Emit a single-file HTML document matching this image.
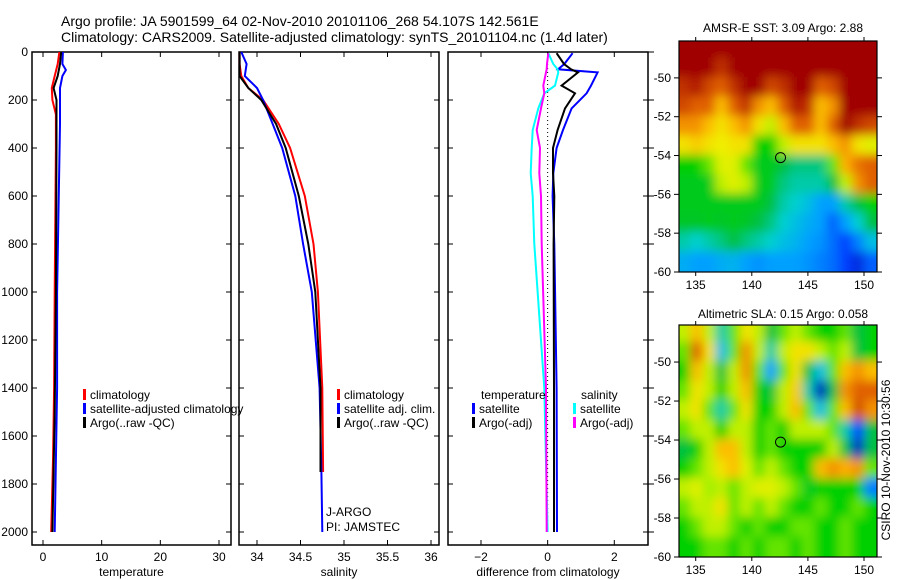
<!DOCTYPE html>
<html><head><meta charset="utf-8">
<style>
body{margin:0;background:#fff;}
svg{display:block;font-family:"Liberation Sans",sans-serif;}
</style></head>
<body>
<svg id="c" width="900" height="580" viewBox="0 0 900 580">
<text x="61" y="26" font-size="14">Argo profile: JA 5901599_64 02-Nov-2010 20101106_268 54.107S 142.561E</text>
<text x="61" y="42" font-size="14">Climatology: CARS2009. Satellite-adjusted climatology: synTS_20101104.nc (1.4d later)</text>
<text x="783" y="32" font-size="12" text-anchor="middle">AMSR-E SST: 3.09 Argo: 2.88</text>
<text x="783" y="318" font-size="12" text-anchor="middle">Altimetric SLA: 0.15 Argo: 0.058</text>
<text transform="translate(890,460) rotate(-90)" font-size="12" text-anchor="middle">CSIRO 10-Nov-2010 10:30:56</text>
<defs>
<clipPath id="cm1"><rect x="679" y="41" width="198" height="231"/></clipPath>
<clipPath id="cm2"><rect x="679" y="325" width="198" height="232"/></clipPath>
<filter id="bl" x="-0.1" y="-0.1" width="1.2" height="1.2"><feGaussianBlur stdDeviation="5"/></filter>
</defs>
</svg>
<script>
// ---- profile data ----
const depthsTClim=[0,50,100,150,200,260,400,1000,1400,1700,2000];
const tempClim=[2.8,2.5,2.0,1.5,1.6,2.2,2.2,2.0,1.9,1.7,1.4];
const depthsTSat=[0,50,75,100,150,300,1000,1400,1700,2000];
const tempSat=[3.4,3.3,3.9,3.3,2.9,2.9,2.4,2.4,2.2,2.0];
const depthsTArgo=[0,50,100,150,200,400,1000,1500,2000];
const tempArgo=[3.1,2.9,2.5,1.8,2.3,2.3,2.2,2.0,1.6];

const depthsS=[0,50,100,150,200,300,400,600,800,1000,1400,1750,2000];
const salClim=[33.8,33.8,33.82,33.9,34.07,34.25,34.38,34.55,34.65,34.7,34.75,34.76,null];
const salSat=[33.82,33.88,33.86,34.0,34.07,34.18,34.29,34.44,34.53,34.63,34.72,34.74,34.75];
const salArgo=[33.8,33.8,33.8,33.9,34.05,34.22,34.33,34.48,34.59,34.67,34.73,34.73,null];

const depthsD=[5,50,72,85,140,172,235,325,400,505,600,800,1400,2000];
const dTempSat=[0.75,0.5,0.31,1.5,1.3,1.17,0.72,0.46,0.27,0.17,0.15,0.2,0.27,0.28];
const dTempArgo=[0.27,0.49,0.7,0.91,0.42,0.82,0.52,0.3,0.16,0.16,0.2,0.18,0.19,0.19];
const dSalSat=[0.02,0.17,0.3,0.32,0.22,-0.1,-0.28,-0.45,-0.48,-0.51,-0.45,-0.4,-0.1,0.0];
const dSalArgo=[0.02,-0.02,-0.03,-0.05,-0.13,-0.1,-0.2,-0.33,-0.23,-0.25,-0.2,-0.18,-0.05,-0.03];

const depthTicks=[0,200,400,600,800,1000,1200,1400,1600,1800,2000];
const tempTicks=[0,10,20,30];
const salTicks=[34,34.5,35,35.5,36];
const diffTicks=[-2,0,2];

// ---- map data (rows lat 48..59, cols lon 133.5..151.1) ----
const sstGrid=[
[1,1,1,1,1,1,1,1,1,1,1,1,1,1,1,1],
[1,1,1,.9,1,1,1,1,1,1,1,1,1,1,1,1],
[.9,.95,.85,.8,.9,1,1,.85,.9,1,1,.8,.85,1,1,1],
[.85,.8,.8,.7,.8,.9,.75,.7,.8,.95,.9,.7,.75,1,1,1],
[.75,.75,.7,.65,.7,.75,.65,.6,.7,.8,.8,.7,.8,1,.9,.85],
[.65,.68,.65,.63,.65,.65,.5,.5,.6,.65,.65,.65,.7,.75,.65,.62],
[.5,.5,.55,.62,.62,.55,.48,.48,.45,.42,.42,.42,.55,.72,.78,.8],
[.48,.48,.48,.6,.62,.6,.48,.48,.42,.4,.4,.4,.45,.6,.75,.8],
[.48,.48,.48,.48,.48,.48,.48,.45,.4,.38,.35,.3,.3,.4,.45,.5],
[.47,.47,.48,.47,.48,.47,.45,.42,.38,.35,.32,.3,.2,.3,.38,.45],
[.4,.38,.4,.42,.45,.42,.4,.38,.35,.33,.3,.28,.22,.15,.25,.35],
[.32,.3,.3,.32,.33,.3,.28,.3,.3,.3,.28,.25,.22,.15,.1,.2]];
const slaGrid=[
[.6,.7,.6,.4,.55,.65,.6,.45,.55,.6,.55,.5,.5,.55,.45,.5],
[.55,.8,.65,.35,.55,.75,.6,.4,.6,.65,.65,.6,.55,.6,.45,.5],
[.5,.7,.6,.45,.6,.75,.55,.3,.55,.65,.45,.35,.55,.7,.75,.7],
[.55,.65,.6,.5,.6,.7,.5,.45,.6,.68,.4,.05,.45,.75,.8,.8],
[.6,.65,.55,.4,.55,.65,.5,.5,.6,.7,.55,.35,.55,.7,.85,.75],
[.55,.6,.6,.5,.6,.6,.5,.55,.5,.6,.6,.6,.55,.4,.15,.45],
[.45,.5,.6,.7,.7,.6,.5,.55,.5,.5,.5,.5,.6,.45,.05,.45],
[.5,.55,.6,.65,.7,.62,.55,.6,.55,.5,.5,.7,.75,.72,.75,.55],
[.6,.62,.58,.6,.55,.6,.62,.62,.6,.55,.48,.5,.5,.5,.5,.25],
[.55,.6,.6,.65,.55,.6,.55,.6,.55,.5,.5,.55,.5,.5,.55,.5],
[.5,.55,.6,.6,.55,.5,.55,.5,.5,.55,.55,.5,.5,.55,.5,.5],
[.5,.5,.55,.55,.5,.55,.5,.55,.55,.5,.55,.5,.5,.55,.5,.5]];
const lonTicks=[135,140,145,150];
const latTicks=[50,52,54,56,58,60];
const floatLon=142.561, floatLat=54.107;

const NS='http://www.w3.org/2000/svg';
const svg=document.getElementById('c');
function el(tag,attrs,parent){const e=document.createElementNS(NS,tag);for(const k in attrs)e.setAttribute(k,attrs[k]);(parent||svg).appendChild(e);return e;}
function lin(d0,d1,r0,r1){return v=>r0+(v-d0)*(r1-r0)/(d1-d0);}
const yD=lin(0,2000,52,532);

function panel(x0,x1,xs,xticks,xlabel,name,fmt){
  const g=el('g',{});
  
  
  const fr=el('rect',{x:x0,y:52,width:x1-x0,height:493,fill:'none',stroke:'#000','stroke-width':1.5},g);
  
  
  depthTicks.forEach(d=>{
    const y=yD(d);
    el('line',{x1:x0,x2:x0+5,y1:y,y2:y,stroke:'#000'},g);
    el('line',{x1:x1,x2:x1-5,y1:y,y2:y,stroke:'#000'},g);
  });
  xticks.forEach(v=>{
    const x=xs(v);
    el('line',{x1:x,x2:x,y1:52,y2:57,stroke:'#000'},g);
    el('line',{x1:x,x2:x,y1:545,y2:540,stroke:'#000'},g);
    const t=el('text',{x:x,y:561,'font-size':12,'text-anchor':'middle'},g);
    t.textContent=fmt?fmt(v):v;
    
    
  });
  const xl=el('text',{x:(x0+x1)/2,y:576,'font-size':12,'text-anchor':'middle'},g);
  xl.textContent=xlabel;
  
  
  return g;
}
function series(depths,vals,xs,color,name){
  const pts=[];depths.forEach((d,i)=>{if(vals[i]!==null)pts.push(xs(vals[i]).toFixed(1)+','+yD(d).toFixed(1));});
  const p=el('polyline',{points:pts.join(' '),fill:'none',stroke:color,'stroke-width':2});
  
  
}
function legend(x,y,color,label,name){
  const r=el('rect',{x:x,y:y-9,width:3,height:11,fill:color});
  
  
  const t=el('text',{x:x+7,y:y+1,'font-size':12});
  t.textContent=label;
  
  
}

depthTicks.forEach(d=>{
  const t=el('text',{x:28,y:yD(d)+4,'font-size':12,'text-anchor':'end'});
  t.textContent=d;
  
  
});

const xT=lin(0,30,43,219);
panel(32,231,xT,tempTicks,'temperature','temperature-panel');
series(depthsTClim,tempClim,xT,'#f00','temp-climatology-line');
series(depthsTSat,tempSat,xT,'#00f','temp-satellite-line');
series(depthsTArgo,tempArgo,xT,'#000','temp-argo-line');
legend(83,398,'#f00','climatology','legend-climatology');
legend(83,412,'#00f','satellite-adjusted climatology','legend-satellite-adjusted');
legend(83,426,'#000','Argo(..raw -QC)','legend-argo');

const xS=lin(34,36,257,431);
panel(239,439,xS,salTicks,'salinity','salinity-panel');
series(depthsS,salClim,xS,'#f00','sal-climatology-line');
series(depthsS,salSat,xS,'#00f','sal-satellite-line');
series(depthsS,salArgo,xS,'#000','sal-argo-line');
legend(337,398,'#f00','climatology','legend-sal-climatology');
legend(337,412,'#00f','satellite adj. clim.','legend-sal-satellite');
legend(337,426,'#000','Argo(..raw -QC)','legend-sal-argo');
[['J-ARGO',516],['PI: JAMSTEC',531]].forEach(([s,y])=>{const t=el('text',{x:326,y:y,'font-size':12});t.textContent=s;});

const xDf=lin(-2,2,481,614.3);
panel(448,648,xDf,diffTicks,'difference from climatology','difference-panel',v=>v<0?'\u2212'+(-v):v);
depthTicks.forEach(d=>el('line',{x1:648,x2:654,y1:yD(d),y2:yD(d),stroke:'#000'}));
const zl=el('line',{x1:xDf(0),x2:xDf(0),y1:52,y2:yD(2000),stroke:'#000','stroke-dasharray':'1,3'});


series(depthsD,dTempSat,xDf,'#00f','diff-temp-satellite-line');
series(depthsD,dTempArgo,xDf,'#000','diff-temp-argo-line');
series(depthsD,dSalSat,xDf,'#0ff','diff-sal-satellite-line');
series(depthsD,dSalArgo,xDf,'#f0f','diff-sal-argo-line');
const th=el('text',{x:481,y:399,'font-size':12});th.textContent='temperature';
const sh=el('text',{x:581,y:399,'font-size':12});sh.textContent='salinity';
legend(472,412,'#00f','satellite','legend-diff-temp-satellite');
legend(472,426,'#000','Argo(-adj)','legend-diff-temp-argo');
legend(573,412,'#0ff','satellite','legend-diff-sal-satellite');
legend(573,426,'#f0f','Argo(-adj)','legend-diff-sal-argo');

const cstops=[[0,[0,0,160]],[.15,[0,64,255]],[.3,[0,160,255]],[.38,[0,208,208]],[.45,[0,192,64]],[.5,[0,208,0]],[.58,[160,240,0]],[.63,[240,240,0]],[.72,[255,176,0]],[.8,[224,96,0]],[.9,[192,48,0]],[1,[160,0,0]]];
function cmap(v){for(let i=1;i<cstops.length;i++){if(v<=cstops[i][0]){const a=cstops[i-1],b=cstops[i];const f=(v-a[0])/(b[0]-a[0]);return 'rgb('+a[1].map((c,k)=>Math.round(c+(b[1][k]-c)*f)).join(',')+')';}}return 'rgb(160,0,0)';}

function drawMap(grid,top,bottom,clip,name){
  const xL=lin(135,150,695.7,864), yL=lin(50,60,top+(bottom-top)*(1.9/11.9),bottom);
  const g=el('g',{'clip-path':'url(#'+clip+')'});
  
  
  const inner=el('g',{filter:'url(#bl)'},g);
  const nC=grid[0].length, lonStep=(151.2-133.5)/nC;
  grid.forEach((row,r)=>row.forEach((v,c)=>{
    const lo=133.5+c*lonStep, la=48+r;
    let x=xL(lo), y=yL(la), w=xL(lo+lonStep)-x, h=yL(la+1)-y;
    if(c===0){x-=15;w+=15;} if(c===nC-1){w+=15;}
    if(r===0){y-=15;h+=15;} if(r===grid.length-1){h+=15;}
    const cell=el('rect',{x:x-1,y:y-1,width:w+2,height:h+2,fill:cmap(v)},inner);
    
    
  }));
  const fr=el('rect',{x:679,y:top,width:198,height:bottom-top,fill:'none',stroke:'#000','stroke-width':1.2});
  
  
  lonTicks.forEach(v=>{
    const x=xL(v);
    el('line',{x1:x,x2:x,y1:top,y2:top-4,stroke:'#000'});
    el('line',{x1:x,x2:x,y1:bottom,y2:bottom+4,stroke:'#000'});
    const t=el('text',{x:x,y:bottom+17,'font-size':12,'text-anchor':'middle'});
    t.textContent=v;
  });
  latTicks.forEach(v=>{
    const y=yL(v);
    el('line',{x1:679,x2:674,y1:y,y2:y,stroke:'#000'});
    el('line',{x1:877,x2:882,y1:y,y2:y,stroke:'#000'});
    const t=el('text',{x:671,y:y+4,'font-size':12,'text-anchor':'end'});
    t.textContent='-'+v;
  });
  const m=el('circle',{cx:xL(floatLon),cy:yL(floatLat),r:5,fill:'none',stroke:'#000','stroke-width':1});
  
  
}
drawMap(sstGrid,41,272,'cm1','sst-map');
drawMap(slaGrid,325,557,'cm2','sla-map');
</script>
</body></html>
